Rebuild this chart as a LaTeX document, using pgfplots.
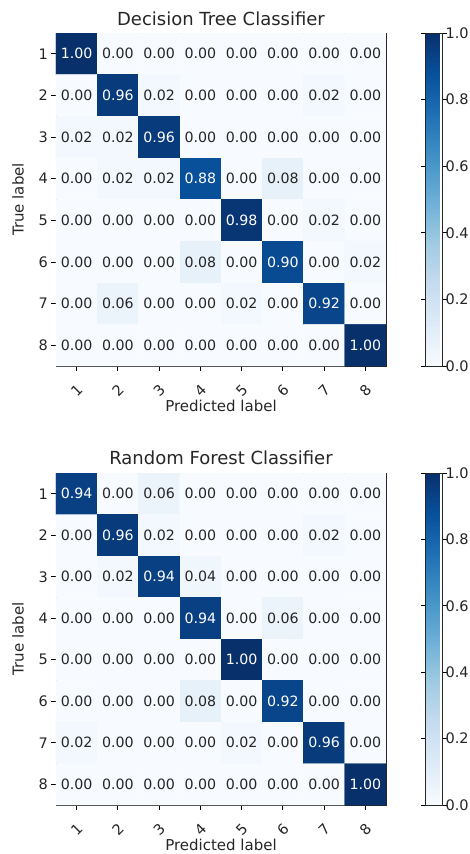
\documentclass[border=0pt]{standalone}
\usepackage{fontspec}
\setmainfont{DejaVu Sans}
\usepackage{pgfplots}
\usepackage{pgfplotstable}
\pgfplotsset{compat=1.18}

\pgfplotstableread{
x y C
1 1 1.00
2 1 0.00
3 1 0.00
4 1 0.00
5 1 0.00
6 1 0.00
7 1 0.00
8 1 0.00
1 2 0.00
2 2 0.96
3 2 0.02
4 2 0.00
5 2 0.00
6 2 0.00
7 2 0.02
8 2 0.00
1 3 0.02
2 3 0.02
3 3 0.96
4 3 0.00
5 3 0.00
6 3 0.00
7 3 0.00
8 3 0.00
1 4 0.00
2 4 0.02
3 4 0.02
4 4 0.88
5 4 0.00
6 4 0.08
7 4 0.00
8 4 0.00
1 5 0.00
2 5 0.00
3 5 0.00
4 5 0.00
5 5 0.98
6 5 0.00
7 5 0.02
8 5 0.00
1 6 0.00
2 6 0.00
3 6 0.00
4 6 0.08
5 6 0.00
6 6 0.90
7 6 0.00
8 6 0.02
1 7 0.00
2 7 0.06
3 7 0.00
4 7 0.00
5 7 0.02
6 7 0.00
7 7 0.92
8 7 0.00
1 8 0.00
2 8 0.00
3 8 0.00
4 8 0.00
5 8 0.00
6 8 0.00
7 8 0.00
8 8 1.00
}\dtdata

\pgfplotstableread{
x y C
1 1 0.94
2 1 0.00
3 1 0.06
4 1 0.00
5 1 0.00
6 1 0.00
7 1 0.00
8 1 0.00
1 2 0.00
2 2 0.96
3 2 0.02
4 2 0.00
5 2 0.00
6 2 0.00
7 2 0.02
8 2 0.00
1 3 0.00
2 3 0.02
3 3 0.94
4 3 0.04
5 3 0.00
6 3 0.00
7 3 0.00
8 3 0.00
1 4 0.00
2 4 0.00
3 4 0.00
4 4 0.94
5 4 0.00
6 4 0.06
7 4 0.00
8 4 0.00
1 5 0.00
2 5 0.00
3 5 0.00
4 5 0.00
5 5 1.00
6 5 0.00
7 5 0.00
8 5 0.00
1 6 0.00
2 6 0.00
3 6 0.00
4 6 0.08
5 6 0.00
6 6 0.92
7 6 0.00
8 6 0.00
1 7 0.02
2 7 0.00
3 7 0.00
4 7 0.00
5 7 0.02
6 7 0.00
7 7 0.96
8 7 0.00
1 8 0.00
2 8 0.00
3 8 0.00
4 8 0.00
5 8 0.00
6 8 0.00
7 8 0.00
8 8 1.00
}\rfdata

\pgfplotsset{
  cmstyle/.style={
    scale only axis,
    width=330pt,
    anchor=north west,
    xmin=0.5, xmax=8.5, ymin=0.5, ymax=8.5,
    y dir=reverse,
    xtick={1,...,8}, ytick={1,...,8},
    xtick pos=bottom, ytick pos=left,
    tick align=outside,
    major tick length=4.5pt,
    tick style={black, line width=0.8pt},
    axis line style={black!85, line width=0.8pt},
    /pgf/number format/assume math mode=true,
    ticklabel style={font=\fontsize{14.5}{17}\selectfont, text=black!85},
    xticklabel style={rotate=45, anchor=center},
    xticklabel shift=20pt,
    every axis y label/.style={at={(axis description cs:-0.115,0.5)}, anchor=center, rotate=90, font=\fontsize{15}{18}\selectfont, text=black!85},
    title style={font=\fontsize{18}{21}\selectfont, text=black!85, anchor=center},
    xlabel={Predicted label},
    ylabel={True label},
    colormap={blues}{rgb255=(247,251,255) rgb255=(222,235,247) rgb255=(198,219,239) rgb255=(158,202,225) rgb255=(107,174,214) rgb255=(66,146,198) rgb255=(33,113,181) rgb255=(8,81,156) rgb255=(8,48,107)},
    point meta min=0, point meta max=1,
    colorbar,
    colorbar style={
      at={(parent axis.north east)}, anchor=north west, xshift=31pt,
      width=17pt,
      ytick={0,0.2,0.4,0.6,0.8,1.0},
      yticklabel style={/pgf/number format/.cd, fixed, fixed zerofill, precision=1, /tikz/.cd, font=\fontsize{14.5}{17}\selectfont, text=black!85, xshift=-5pt},
      /pgf/number format/assume math mode=true,
      tick align=outside,
      major tick length=4.5pt,
      tick style={black, line width=0.8pt},
      axis line style={black!85, line width=0.8pt},
    },
  },
  cellplot/.style={
    matrix plot*,
    mesh/cols=8, mesh/rows=8,
    point meta=explicit,
  },
  celltext/.style={
    only marks, mark=none,
    point meta=explicit symbolic,
    nodes near coords={\ifdim\pgfplotspointmeta pt>0.5pt\color{white}\else\color{black!85}\fi\pgfplotspointmeta},
    every node near coord/.append style={anchor=center, font=\fontsize{14.2}{16}\selectfont},
  },
}

\begin{document}
\begin{tikzpicture}
\useasboundingbox (0,0) rectangle (470pt,-854pt);
\begin{axis}[cmstyle, at={(56pt,-33pt)}, height=333pt,
  every axis x label/.style={at={(axis description cs:0.5,-0.121)}, anchor=center, font=\fontsize{15}{18}\selectfont, text=black!85},
  title={Decision Tree Classifier}, title style={at={(axis description cs:0.5,1.025)}}]
\addplot[cellplot] table[x=x, y=y, meta=C] {\dtdata};
\addplot[celltext] table[x=x, y=y, meta=C] {\dtdata};
\end{axis}
\begin{axis}[cmstyle, at={(56pt,-473pt)}, height=332pt,
  every axis x label/.style={at={(axis description cs:0.5,-0.120)}, anchor=center, font=\fontsize{15}{18}\selectfont, text=black!85},
  title={Random Forest Classifier}, title style={at={(axis description cs:0.5,1.027)}}]
\addplot[cellplot] table[x=x, y=y, meta=C] {\rfdata};
\addplot[celltext] table[x=x, y=y, meta=C] {\rfdata};
\end{axis}
\end{tikzpicture}
\end{document}
